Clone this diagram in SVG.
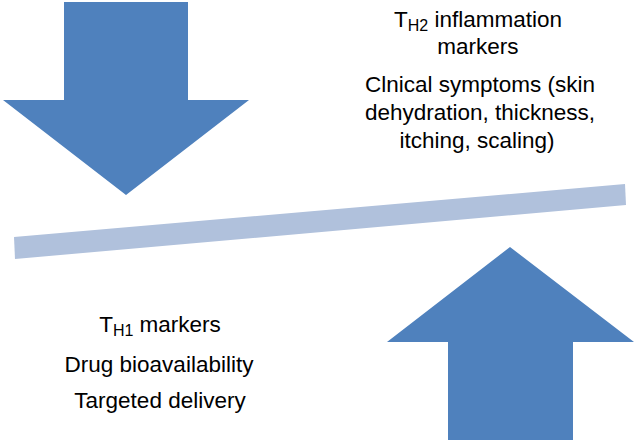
<svg xmlns="http://www.w3.org/2000/svg" width="636" height="443" viewBox="0 0 636 443">
<style>
.arrow{fill:#4F81BD}
.bar{fill:#B0C1DC}
text{font-family:"Liberation Sans",Arial,sans-serif;font-size:22.5px;fill:#000;text-anchor:middle}
.sub{font-size:16px}
</style>
<rect width="636" height="443" fill="#fff"/>
<g id="down-arrow"><polygon class="arrow" points="64,2 188,2 188,100 249,100 126,195 3,100 64,100"/></g>
<g id="up-arrow"><polygon class="arrow" points="510,247 634,342 573,342 573,440 448,440 448,342 387,342"/></g>
<g id="balance-bar"><polygon class="bar" points="14,237 625,184 626,205 15,259"/></g>
<g id="top-text">
<text x="478" y="27">T<tspan class="sub" dy="4">H2</tspan><tspan dy="-4"> inflammation</tspan></text>
<text x="478" y="54">markers</text>
<text x="480" y="92">Clnical symptoms (skin</text>
<text x="480" y="120">dehydration, thickness,</text>
<text x="477" y="148">itching, scaling)</text>
</g>
<g id="bottom-text">
<text x="160" y="332">T<tspan class="sub" dy="4">H1</tspan><tspan dy="-4"> markers</tspan></text>
<text x="159" y="372">Drug bioavailability</text>
<text x="160" y="408">Targeted delivery</text>
</g>
</svg>
